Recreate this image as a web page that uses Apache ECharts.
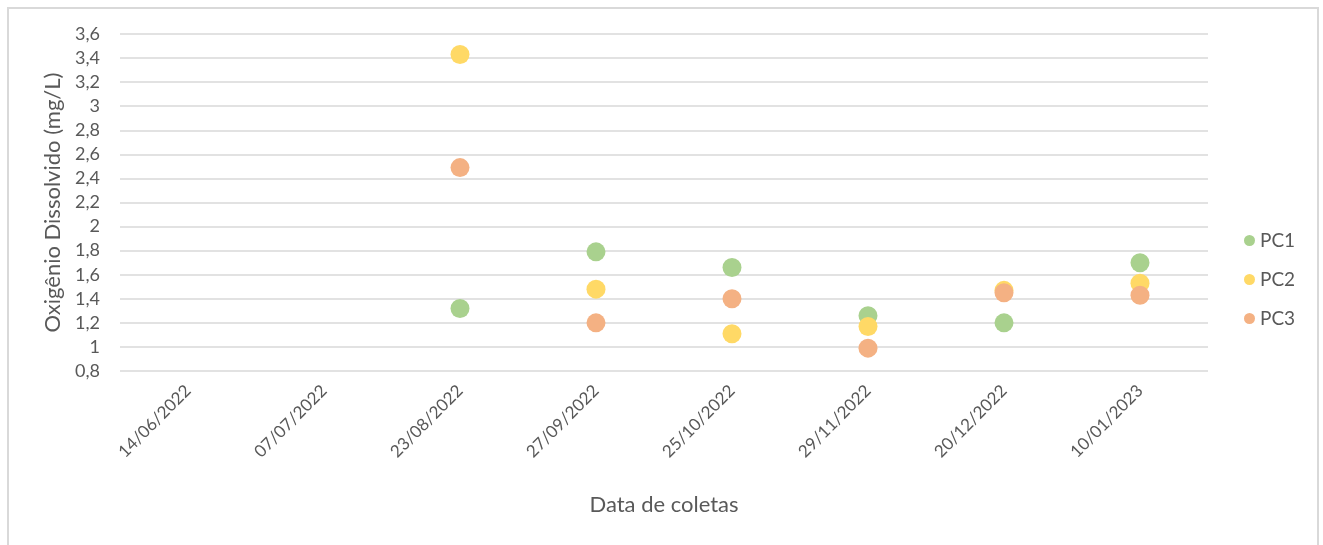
<!DOCTYPE html>
<html>
<head>
<meta charset="utf-8">
<script src="https://cdn.jsdelivr.net/npm/echarts@6/dist/echarts.min.js"></script>
<style>
  html, body { margin: 0; padding: 0; background: #fff; }
  #chart { width: 1323px; height: 545px; }
</style>
</head>
<body>
<div id="chart"></div>
<script>
// Dissolved oxygen per sampling date, one series per collection point
const categories = ['14/06/2022', '07/07/2022', '23/08/2022', '27/09/2022', '25/10/2022', '29/11/2022', '20/12/2022', '10/01/2023'];
const pc1 = [null, null, 1.32, 1.79, 1.66, 1.26, 1.20, 1.70];
const pc2 = [null, null, 3.43, 1.48, 1.11, 1.17, 1.47, 1.53];
const pc3 = [null, null, 2.49, 1.20, 1.40, 0.99, 1.45, 1.43];
const seriesNames = ['PC1', 'PC2', 'PC3'];
const seriesColors = ['#A9D18E', '#FFD966', '#F4B183'];

const font = 'Lato, "Open Sans", sans-serif';
const textColor = '#595959';

const chart = echarts.init(document.getElementById('chart'), null, { renderer: 'canvas' });

const seriesData = [pc1, pc2, pc3];

chart.setOption({
  animation: false,
  backgroundColor: '#fff',
  graphic: [{
    type: 'rect',
    shape: { x: 8, y: 8, width: 1310, height: 560 },
    style: { fill: 'none', stroke: '#d9d9d9', lineWidth: 2 },
    silent: true
  }],
  grid: { left: 120, right: 115, top: 34, bottom: 174, containLabel: false },
  legend: {
    orient: 'vertical',
    left: 1239,
    top: 226,
    itemGap: 20,
    itemWidth: 11,
    itemHeight: 11,
    icon: 'circle',
    textStyle: { color: textColor, fontSize: 19, fontFamily: font },
    data: seriesNames
  },
  xAxis: {
    type: 'category',
    data: categories,
    boundaryGap: true,
    name: 'Data de coletas',
    nameLocation: 'middle',
    nameGap: 123,
    nameTextStyle: { color: textColor, fontSize: 22, fontFamily: font },
    axisLine: { show: false },
    axisTick: { show: false },
    axisLabel: {
      rotate: 45,
      interval: 0,
      margin: 17,
      color: textColor,
      fontSize: 17,
      fontFamily: font
    },
    splitLine: { show: false }
  },
  yAxis: {
    type: 'value',
    min: 0.8,
    max: 3.6,
    interval: 0.2,
    name: 'Oxigênio Dissolvido (mg/L)',
    nameLocation: 'middle',
    nameGap: 54,
    nameTextStyle: { color: textColor, fontSize: 22, fontFamily: font },
    axisLine: { show: false },
    axisTick: { show: false },
    axisLabel: {
      color: textColor,
      fontSize: 18,
      fontFamily: font,
      margin: 20,
      formatter: v => String(Math.round(v * 10) / 10).replace('.', ',')
    },
    splitLine: { lineStyle: { color: '#d9d9d9', width: 1.5 } }
  },
  series: seriesNames.map((name, i) => ({
    name,
    type: 'scatter',
    symbol: 'circle',
    symbolSize: 19,
    itemStyle: { color: seriesColors[i], opacity: 1 },
    data: seriesData[i],
    z: 2 + i
  }))
});
</script>
</body>
</html>
